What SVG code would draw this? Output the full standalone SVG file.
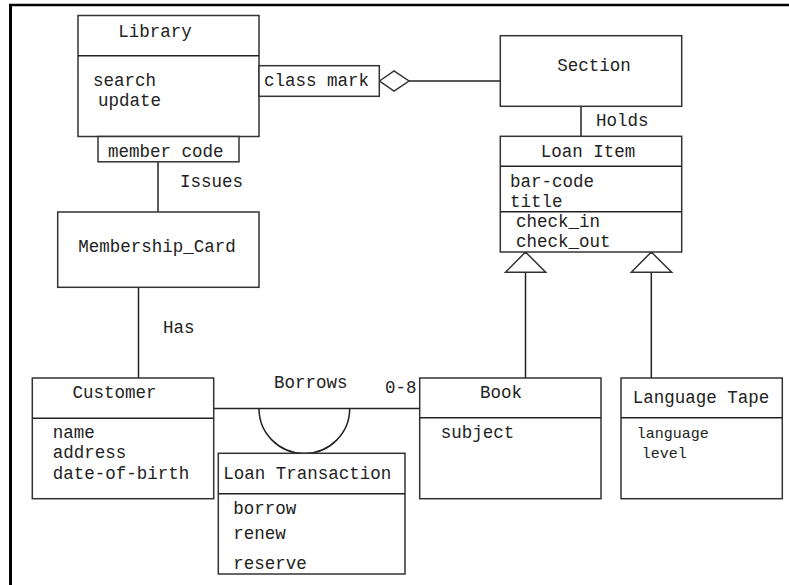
<svg xmlns="http://www.w3.org/2000/svg" width="789" height="585" viewBox="0 0 789 585">
<style>
.b{fill:#fff;stroke:#333;stroke-width:1.5}
.l{fill:none;stroke:#222;stroke-width:1.5}
text{font-family:"Liberation Mono","Courier New",monospace;font-size:17.5px;fill:#222}
.c{text-anchor:middle}
.s{font-size:15px}
</style>
<rect x="0" y="0" width="789" height="585" fill="#fff"/>
<g id="frame">
<line x1="9" y1="5" x2="789" y2="5" stroke="#000" stroke-width="2.5"/>
<line x1="10.5" y1="4" x2="10.5" y2="585" stroke="#000" stroke-width="3"/>
</g>
<g id="connectors">
<line class="l" x1="409" y1="81" x2="500" y2="81"/>
<line class="l" x1="581" y1="106" x2="581" y2="136"/>
<line class="l" x1="158" y1="162" x2="158" y2="212"/>
<line class="l" x1="138.5" y1="287" x2="138.5" y2="378"/>
<line class="l" x1="214" y1="408.5" x2="420" y2="408.5"/>
<path class="l" d="M259 408.5 A45.3 45 0 0 0 349.7 408.5"/>
<line class="l" x1="525.5" y1="272" x2="525.5" y2="378"/>
<line class="l" x1="651.3" y1="272" x2="651.3" y2="378"/>
<polygon class="b" points="379.5,81 394,71 409,81 394,91"/>
<polygon class="b" points="525.5,252 505.5,272.3 545.7,272.3"/>
<polygon class="b" points="651.3,252 631.3,272.3 671.7,272.3"/>
<text x="180" y="187">Issues</text>
<text x="163" y="333">Has</text>
<text x="596" y="126">Holds</text>
<text x="274" y="388">Borrows</text>
<text x="385" y="393">0-8</text>
</g>
<g id="library">
<rect class="b" x="78" y="15.5" width="181" height="121"/>
<line class="l" x1="78" y1="55.7" x2="259" y2="55.7"/>
<text class="c" x="155" y="37">Library</text>
<text x="93" y="86">search</text>
<text x="98" y="106">update</text>
</g>
<g id="member_code">
<rect class="b" x="98" y="136.5" width="141" height="25.3"/>
<text x="108" y="157">member code</text>
</g>
<g id="class_mark">
<rect class="b" x="259" y="65.7" width="120.3" height="30.6"/>
<text x="264" y="86">class mark</text>
</g>
<g id="section">
<rect class="b" x="500.3" y="35.7" width="181.4" height="70.6"/>
<text class="c" x="594" y="71">Section</text>
</g>
<g id="loan_item">
<rect class="b" x="500.3" y="136.3" width="181.4" height="115.7"/>
<line class="l" x1="500.3" y1="166.3" x2="681.7" y2="166.3"/>
<line class="l" x1="500.3" y1="211.7" x2="681.7" y2="211.7"/>
<text class="c" x="588" y="157">Loan Item</text>
<text x="510" y="187">bar-code</text>
<text x="510" y="207">title</text>
<text x="516" y="227">check_in</text>
<text x="516" y="247">check_out</text>
</g>
<g id="membership_card">
<rect class="b" x="57.7" y="212" width="201.3" height="75.3"/>
<text class="c" x="157" y="252">Membership_Card</text>
</g>
<g id="customer">
<rect class="b" x="32.3" y="378" width="181.4" height="120.7"/>
<line class="l" x1="32.3" y1="418.3" x2="213.7" y2="418.3"/>
<text class="c" x="114.5" y="398">Customer</text>
<text x="52.7" y="437.7">name</text>
<text x="52.7" y="458">address</text>
<text x="52.7" y="478.7">date-of-birth</text>
</g>
<g id="loan_transaction">
<rect class="b" x="218.3" y="453.3" width="186.7" height="120.7"/>
<line class="l" x1="218.3" y1="493.7" x2="405" y2="493.7"/>
<text x="223.3" y="479.3">Loan Transaction</text>
<text x="233.3" y="514.3">borrow</text>
<text x="233.3" y="539.3">renew</text>
<text x="233.3" y="569">reserve</text>
</g>
<g id="book">
<rect class="b" x="419.7" y="378" width="181.3" height="120.7"/>
<line class="l" x1="419.7" y1="417.7" x2="601" y2="417.7"/>
<text class="c" x="501" y="398">Book</text>
<text x="440.7" y="438">subject</text>
</g>
<g id="language_tape">
<rect class="b" x="621" y="378" width="161.3" height="120.7"/>
<line class="l" x1="621" y1="417.7" x2="782.3" y2="417.7"/>
<text class="c" x="701" y="403">Language Tape</text>
<text class="s" x="636.7" y="438">language</text>
<text class="s" x="641.7" y="457.7">level</text>
</g>
</svg>
